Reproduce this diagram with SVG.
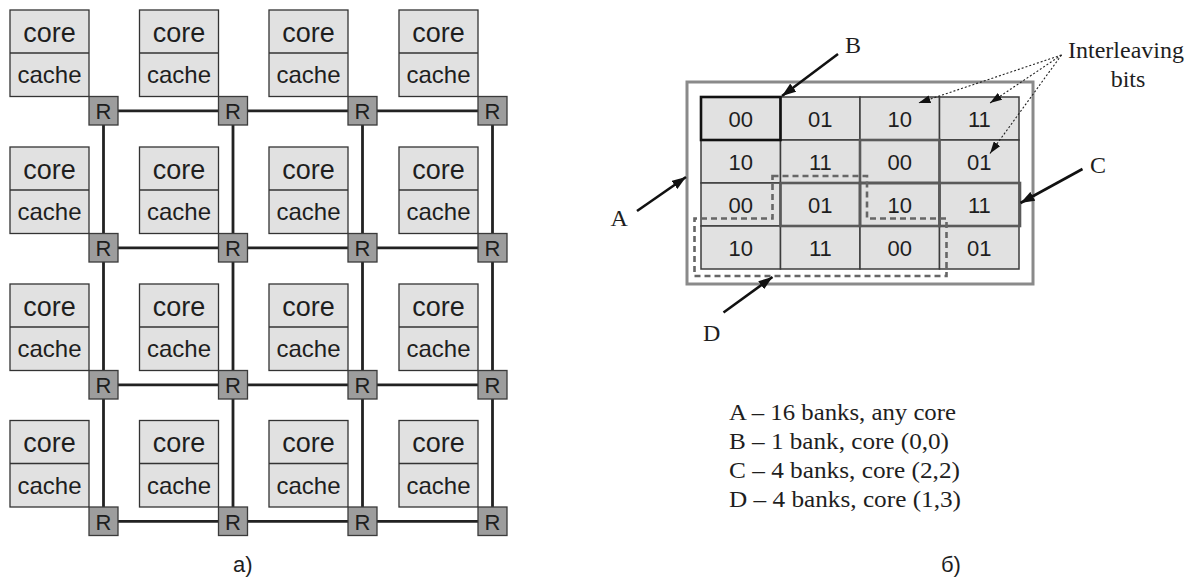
<svg xmlns="http://www.w3.org/2000/svg" width="1194" height="578" viewBox="0 0 1194 578">
<defs>
<style>
.tile{fill:#e1e1e1;stroke:#333;stroke-width:1.3}
.div{stroke:#333;stroke-width:1.3}
.rt{fill:#9d9d9d;stroke:#3a3a3a;stroke-width:1.3}
.core{font-family:"Liberation Sans",Arial,sans-serif;font-size:27px;fill:#1e1e1e;text-anchor:middle}
.cache{font-family:"Liberation Sans",Arial,sans-serif;font-size:24px;fill:#1e1e1e;text-anchor:middle}
.rtxt{font-family:"Liberation Sans",Arial,sans-serif;font-size:22px;fill:#1e1e1e;text-anchor:middle}
.link{stroke:#222;stroke-width:2.8;fill:none}
.cell{fill:#e1e1e1;stroke:#3c3c3c;stroke-width:1.5}
.ctxt{font-family:"Liberation Sans",Arial,sans-serif;font-size:22px;fill:#1e1e1e;text-anchor:middle}
.ser{font-family:"Liberation Serif","Times New Roman",serif;font-size:24px;fill:#1e1e1e}
.sans{font-family:"Liberation Sans",Arial,sans-serif;font-size:22px;fill:#1e1e1e}
.arr{stroke:#111;stroke-width:2.6;fill:none;marker-end:url(#ah)}
.dot{stroke:#222;stroke-width:1.1;stroke-dasharray:2,2;fill:none;marker-end:url(#ahs)}
.cbox{fill:none;stroke:#5a5a5a;stroke-width:2.6}
.dash{fill:none;stroke:#666;stroke-width:2.6;stroke-dasharray:6,4}
</style>
<marker id="ah" viewBox="0 0 14 10" refX="14" refY="5" markerWidth="14" markerHeight="10" markerUnits="userSpaceOnUse" orient="auto">
<path d="M0,0 L14,5 L0,10 Z" fill="#111"/>
</marker>
<marker id="ahs" viewBox="0 0 12 8" refX="12" refY="4" markerWidth="12" markerHeight="8" markerUnits="userSpaceOnUse" orient="auto">
<path d="M0,0 L12,4 L0,8 Z" fill="#111"/>
</marker>
</defs>
<rect width="1194" height="578" fill="#fff"/>

<!-- Mesh links -->
<g id="connectors">
<line class="link" x1="103.5" y1="110.8" x2="492.5" y2="110.8"/>
<line class="link" x1="103.5" y1="247.8" x2="492.5" y2="247.8"/>
<line class="link" x1="103.5" y1="384.8" x2="492.5" y2="384.8"/>
<line class="link" x1="103.5" y1="521.3" x2="492.5" y2="521.3"/>
<line class="link" x1="103.5" y1="110.8" x2="103.5" y2="521.3"/>
<line class="link" x1="233" y1="110.8" x2="233" y2="521.3"/>
<line class="link" x1="362.5" y1="110.8" x2="362.5" y2="521.3"/>
<line class="link" x1="492.5" y1="110.8" x2="492.5" y2="521.3"/>
</g>

<!-- Tiles -->
<g id="tile-0-0"><rect class="tile" x="10" y="10" width="79" height="86.5"/><line class="div" x1="10" y1="53" x2="89" y2="53"/><text class="core" x="49.5" y="41.5">core</text><text class="cache" x="49.5" y="83">cache</text></g>
<g id="tile-1-0"><rect class="tile" x="139.5" y="10" width="79" height="86.5"/><line class="div" x1="139.5" y1="53" x2="218.5" y2="53"/><text class="core" x="179" y="41.5">core</text><text class="cache" x="179" y="83">cache</text></g>
<g id="tile-2-0"><rect class="tile" x="269" y="10" width="79" height="86.5"/><line class="div" x1="269" y1="53" x2="348" y2="53"/><text class="core" x="308.5" y="41.5">core</text><text class="cache" x="308.5" y="83">cache</text></g>
<g id="tile-3-0"><rect class="tile" x="399" y="10" width="79" height="86.5"/><line class="div" x1="399" y1="53" x2="478" y2="53"/><text class="core" x="438.5" y="41.5">core</text><text class="cache" x="438.5" y="83">cache</text></g>

<g id="tile-0-1"><rect class="tile" x="10" y="147" width="79" height="86.5"/><line class="div" x1="10" y1="190" x2="89" y2="190"/><text class="core" x="49.5" y="178.5">core</text><text class="cache" x="49.5" y="220">cache</text></g>
<g id="tile-1-1"><rect class="tile" x="139.5" y="147" width="79" height="86.5"/><line class="div" x1="139.5" y1="190" x2="218.5" y2="190"/><text class="core" x="179" y="178.5">core</text><text class="cache" x="179" y="220">cache</text></g>
<g id="tile-2-1"><rect class="tile" x="269" y="147" width="79" height="86.5"/><line class="div" x1="269" y1="190" x2="348" y2="190"/><text class="core" x="308.5" y="178.5">core</text><text class="cache" x="308.5" y="220">cache</text></g>
<g id="tile-3-1"><rect class="tile" x="399" y="147" width="79" height="86.5"/><line class="div" x1="399" y1="190" x2="478" y2="190"/><text class="core" x="438.5" y="178.5">core</text><text class="cache" x="438.5" y="220">cache</text></g>

<g id="tile-0-2"><rect class="tile" x="10" y="284" width="79" height="86.5"/><line class="div" x1="10" y1="327" x2="89" y2="327"/><text class="core" x="49.5" y="315.5">core</text><text class="cache" x="49.5" y="357">cache</text></g>
<g id="tile-1-2"><rect class="tile" x="139.5" y="284" width="79" height="86.5"/><line class="div" x1="139.5" y1="327" x2="218.5" y2="327"/><text class="core" x="179" y="315.5">core</text><text class="cache" x="179" y="357">cache</text></g>
<g id="tile-2-2"><rect class="tile" x="269" y="284" width="79" height="86.5"/><line class="div" x1="269" y1="327" x2="348" y2="327"/><text class="core" x="308.5" y="315.5">core</text><text class="cache" x="308.5" y="357">cache</text></g>
<g id="tile-3-2"><rect class="tile" x="399" y="284" width="79" height="86.5"/><line class="div" x1="399" y1="327" x2="478" y2="327"/><text class="core" x="438.5" y="315.5">core</text><text class="cache" x="438.5" y="357">cache</text></g>

<g id="tile-0-3"><rect class="tile" x="10" y="420.5" width="79" height="86.5"/><line class="div" x1="10" y1="463.5" x2="89" y2="463.5"/><text class="core" x="49.5" y="452">core</text><text class="cache" x="49.5" y="493.5">cache</text></g>
<g id="tile-1-3"><rect class="tile" x="139.5" y="420.5" width="79" height="86.5"/><line class="div" x1="139.5" y1="463.5" x2="218.5" y2="463.5"/><text class="core" x="179" y="452">core</text><text class="cache" x="179" y="493.5">cache</text></g>
<g id="tile-2-3"><rect class="tile" x="269" y="420.5" width="79" height="86.5"/><line class="div" x1="269" y1="463.5" x2="348" y2="463.5"/><text class="core" x="308.5" y="452">core</text><text class="cache" x="308.5" y="493.5">cache</text></g>
<g id="tile-3-3"><rect class="tile" x="399" y="420.5" width="79" height="86.5"/><line class="div" x1="399" y1="463.5" x2="478" y2="463.5"/><text class="core" x="438.5" y="452">core</text><text class="cache" x="438.5" y="493.5">cache</text></g>

<!-- Routers -->
<g id="router-0-0"><rect class="rt" x="89" y="96.5" width="29" height="28.5"/><text class="rtxt" x="103.5" y="119">R</text></g>
<g id="router-1-0"><rect class="rt" x="218.5" y="96.5" width="29" height="28.5"/><text class="rtxt" x="233" y="119">R</text></g>
<g id="router-2-0"><rect class="rt" x="348" y="96.5" width="29" height="28.5"/><text class="rtxt" x="362.5" y="119">R</text></g>
<g id="router-3-0"><rect class="rt" x="478" y="96.5" width="29" height="28.5"/><text class="rtxt" x="492.5" y="119">R</text></g>
<g id="router-0-1"><rect class="rt" x="89" y="233.5" width="29" height="28.5"/><text class="rtxt" x="103.5" y="256">R</text></g>
<g id="router-1-1"><rect class="rt" x="218.5" y="233.5" width="29" height="28.5"/><text class="rtxt" x="233" y="256">R</text></g>
<g id="router-2-1"><rect class="rt" x="348" y="233.5" width="29" height="28.5"/><text class="rtxt" x="362.5" y="256">R</text></g>
<g id="router-3-1"><rect class="rt" x="478" y="233.5" width="29" height="28.5"/><text class="rtxt" x="492.5" y="256">R</text></g>
<g id="router-0-2"><rect class="rt" x="89" y="370.5" width="29" height="28.5"/><text class="rtxt" x="103.5" y="393">R</text></g>
<g id="router-1-2"><rect class="rt" x="218.5" y="370.5" width="29" height="28.5"/><text class="rtxt" x="233" y="393">R</text></g>
<g id="router-2-2"><rect class="rt" x="348" y="370.5" width="29" height="28.5"/><text class="rtxt" x="362.5" y="393">R</text></g>
<g id="router-3-2"><rect class="rt" x="478" y="370.5" width="29" height="28.5"/><text class="rtxt" x="492.5" y="393">R</text></g>
<g id="router-0-3"><rect class="rt" x="89" y="507" width="29" height="28.5"/><text class="rtxt" x="103.5" y="529.5">R</text></g>
<g id="router-1-3"><rect class="rt" x="218.5" y="507" width="29" height="28.5"/><text class="rtxt" x="233" y="529.5">R</text></g>
<g id="router-2-3"><rect class="rt" x="348" y="507" width="29" height="28.5"/><text class="rtxt" x="362.5" y="529.5">R</text></g>
<g id="router-3-3"><rect class="rt" x="478" y="507" width="29" height="28.5"/><text class="rtxt" x="492.5" y="529.5">R</text></g>

<text id="label-a" class="sans" x="233" y="572">а)</text>

<!-- Right: bank map -->
<g id="region-A"><rect x="687" y="82" width="346" height="202" fill="none" stroke="#8a8a8a" stroke-width="3"/></g>
<g id="banks">
<rect class="cell" x="701" y="97" width="79.5" height="43"/><text class="ctxt" x="740.8" y="126.5">00</text>
<rect class="cell" x="780.5" y="97" width="79.5" height="43"/><text class="ctxt" x="820.3" y="126.5">01</text>
<rect class="cell" x="860" y="97" width="79.5" height="43"/><text class="ctxt" x="899.8" y="126.5">10</text>
<rect class="cell" x="939.5" y="97" width="79.5" height="43"/><text class="ctxt" x="979.3" y="126.5">11</text>
<rect class="cell" x="701" y="140" width="79.5" height="43"/><text class="ctxt" x="740.8" y="169.5">10</text>
<rect class="cell" x="780.5" y="140" width="79.5" height="43"/><text class="ctxt" x="820.3" y="169.5">11</text>
<rect class="cell" x="860" y="140" width="79.5" height="43"/><text class="ctxt" x="899.8" y="169.5">00</text>
<rect class="cell" x="939.5" y="140" width="79.5" height="43"/><text class="ctxt" x="979.3" y="169.5">01</text>
<rect class="cell" x="701" y="183" width="79.5" height="43"/><text class="ctxt" x="740.8" y="212.5">00</text>
<rect class="cell" x="780.5" y="183" width="79.5" height="43"/><text class="ctxt" x="820.3" y="212.5">01</text>
<rect class="cell" x="860" y="183" width="79.5" height="43"/><text class="ctxt" x="899.8" y="212.5">10</text>
<rect class="cell" x="939.5" y="183" width="79.5" height="43"/><text class="ctxt" x="979.3" y="212.5">11</text>
<rect class="cell" x="701" y="226" width="79.5" height="43"/><text class="ctxt" x="740.8" y="255.5">10</text>
<rect class="cell" x="780.5" y="226" width="79.5" height="43"/><text class="ctxt" x="820.3" y="255.5">11</text>
<rect class="cell" x="860" y="226" width="79.5" height="43"/><text class="ctxt" x="899.8" y="255.5">00</text>
<rect class="cell" x="939.5" y="226" width="79.5" height="43"/><text class="ctxt" x="979.3" y="255.5">01</text>
</g>
<g id="region-C">
<rect class="cbox" x="860" y="140" width="79.5" height="43"/>
<rect class="cbox" x="780.5" y="183" width="79.5" height="43"/>
<rect class="cbox" x="860" y="183" width="79.5" height="43"/>
<rect class="cbox" x="939.5" y="183" width="80.5" height="43"/>
</g>
<g id="region-B"><rect x="701" y="97" width="79.5" height="43" fill="none" stroke="#111" stroke-width="2.6"/></g>
<g id="region-D"><path class="dash" d="M772.5,176 H867 V218.5 H946.5 V276 H694.5 V218.5 H772.5 Z"/></g>

<g id="pointers">
<line class="arr" x1="838" y1="54" x2="782" y2="96"/>
<line class="arr" x1="637" y1="211" x2="686" y2="177"/>
<line class="arr" x1="723.5" y1="312.5" x2="772.5" y2="277"/>
<line class="arr" x1="1082.5" y1="169" x2="1020.5" y2="203"/>
<line class="dot" x1="1061.5" y1="55" x2="918.5" y2="103"/>
<line class="dot" x1="1061.5" y1="55" x2="990" y2="103"/>
<line class="dot" x1="1061.5" y1="55" x2="990" y2="153.5"/>
</g>

<g id="labels">
<text class="ser" x="845" y="53">B</text>
<text class="ser" x="610.5" y="226">A</text>
<text class="ser" x="703" y="340.5">D</text>
<text class="ser" x="1090" y="173">C</text>
<text class="ser" x="1068" y="58">Interleaving</text>
<text class="ser" x="1128" y="86.5" text-anchor="middle">bits</text>
</g>

<g id="legend">
<text class="ser" x="729" y="420" textLength="227" lengthAdjust="spacingAndGlyphs">A – 16 banks, any core</text>
<text class="ser" x="729" y="449" textLength="220" lengthAdjust="spacingAndGlyphs">B – 1 bank, core (0,0)</text>
<text class="ser" x="729" y="478" textLength="231" lengthAdjust="spacingAndGlyphs">C – 4 banks, core (2,2)</text>
<text class="ser" x="729" y="507" textLength="232" lengthAdjust="spacingAndGlyphs">D – 4 banks, core (1,3)</text>
</g>

<text id="label-b" class="sans" x="941" y="572">б)</text>
</svg>
